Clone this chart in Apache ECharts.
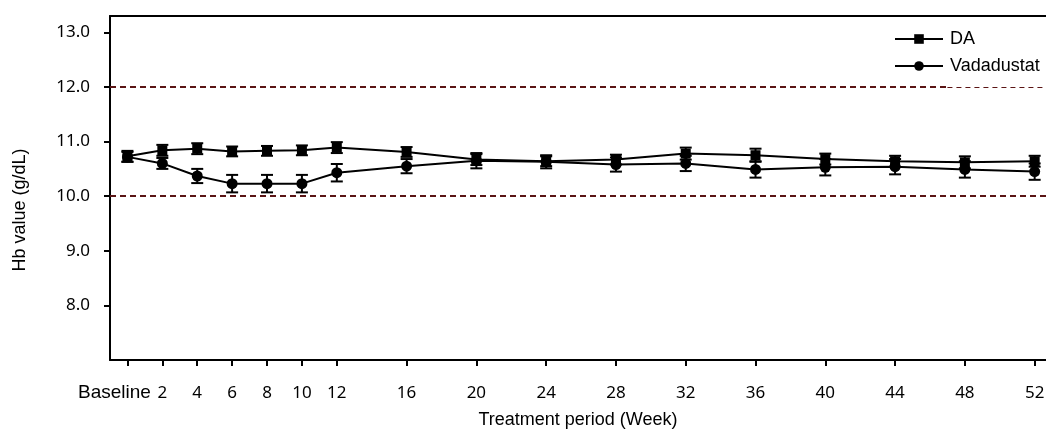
<!DOCTYPE html>
<html>
<head>
<meta charset="utf-8">
<script src="https://cdn.jsdelivr.net/npm/echarts@6/dist/echarts.min.js"></script>
<style>
  html, body { margin: 0; padding: 0; background: #fff; }
  #chart { width: 1046px; height: 432px; }
</style>
</head>
<body>
<div id="chart"></div>
<script>
// Weeks of treatment (0 = baseline)
const weeks = [0, 2, 4, 6, 8, 10, 12, 16, 20, 24, 28, 32, 36, 40, 44, 48, 52];
const weekLabels = ['Baseline', '2', '4', '6', '8', '10', '12', '16', '20', '24', '28', '32', '36', '40', '44', '48', '52'];

// Mean Hb (g/dL) per visit
const daMean = [10.73, 10.84, 10.87, 10.82, 10.83, 10.84, 10.89, 10.81, 10.67, 10.64, 10.67, 10.78, 10.75, 10.68, 10.64, 10.62, 10.64];
const vadaMean = [10.72, 10.60, 10.37, 10.23, 10.23, 10.23, 10.43, 10.55, 10.65, 10.63, 10.58, 10.60, 10.49, 10.53, 10.54, 10.49, 10.45];

// Half-width of the error bars (g/dL)
const daErr = [0.10, 0.10, 0.10, 0.09, 0.09, 0.09, 0.10, 0.09, 0.10, 0.09, 0.09, 0.11, 0.12, 0.10, 0.10, 0.11, 0.10];
const vadaErr = [0.09, 0.10, 0.13, 0.16, 0.16, 0.16, 0.16, 0.13, 0.14, 0.12, 0.13, 0.14, 0.15, 0.15, 0.14, 0.15, 0.15];

// Target range limits
const targetLow = 10;
const targetHigh = 12;
const yTicks = [8, 9, 10, 11, 12, 13];

const pairs = (xs, ys) => xs.map((x, i) => [x, ys[i]]);
const errRows = (xs, m, e) => xs.map((x, i) => [x, m[i] - e[i], m[i] + e[i]]);
const labelOf = v => weekLabels[weeks.indexOf(v)];

function renderErr(params, api) {
  const x = api.value(0);
  const lo = api.coord([x, api.value(1)]);
  const hi = api.coord([x, api.value(2)]);
  const cap = 6;
  const style = { stroke: '#000', lineWidth: 2 };
  return {
    type: 'group',
    children: [
      { type: 'line', shape: { x1: lo[0], y1: lo[1], x2: hi[0], y2: hi[1] }, style },
      { type: 'line', shape: { x1: lo[0] - cap, y1: lo[1], x2: lo[0] + cap, y2: lo[1] }, style },
      { type: 'line', shape: { x1: hi[0] - cap, y1: hi[1], x2: hi[0] + cap, y2: hi[1] }, style }
    ]
  };
}

const tickFont = '"Noto Sans", "Open Sans", sans-serif';
const textFont = '"Liberation Sans", Arial, sans-serif';
const refColor = '#5a1414';
const xMin = -1;
const xMax = 52.65;

const chart = echarts.init(document.getElementById('chart'));
chart.setOption({
  animation: false,
  backgroundColor: '#fff',
  grid: { left: 110, right: 0, top: 16, bottom: 72, containLabel: false, outerBoundsMode: 'none' },
  legend: {
    data: ['DA', 'Vadadustat'],
    orient: 'vertical',
    left: 894,
    top: 30,
    itemWidth: 48,
    itemHeight: 12,
    itemGap: 9,
    textStyle: { fontFamily: textFont, fontSize: 18, color: '#000', padding: [0, 0, 0, 2] },
    backgroundColor: '#fff',
    padding: 0
  },
  xAxis: [{
    // main week axis: ticks at every visit, numeric labels after baseline
    type: 'value',
    min: xMin,
    max: xMax,
    name: 'Treatment period (Week)',
    nameLocation: 'middle',
    nameGap: 51,
    nameTextStyle: { fontFamily: textFont, fontSize: 18, color: '#000' },
    splitLine: { show: false },
    axisLine: { onZero: false, lineStyle: { color: '#000', width: 2 } },
    axisTick: { customValues: weeks, length: 6, lineStyle: { color: '#000', width: 2 } },
    axisLabel: {
      customValues: weeks.slice(1),
      hideOverlap: false,
      margin: 22,
      fontFamily: tickFont,
      fontSize: 17,
      lineHeight: 22,
      color: '#000',
      formatter: labelOf
    }
  }, {
    // closing line along the top of the plot
    type: 'value',
    position: 'top',
    min: xMin,
    max: xMax,
    axisLine: { show: true, onZero: false, lineStyle: { color: '#000', width: 2 } },
    axisTick: { show: false },
    axisLabel: { show: false },
    splitLine: { show: false }
  }, {
    // "Baseline" label, set slightly left of its tick
    type: 'value',
    position: 'bottom',
    min: xMin,
    max: xMax,
    axisLine: { show: false, onZero: false },
    axisTick: { show: false },
    splitLine: { show: false },
    axisLabel: {
      customValues: weeks.slice(0, 1),
      showMinLabel: true,
      margin: 22,
      fontFamily: textFont,
      fontSize: 19,
      lineHeight: 22,
      color: '#000',
      padding: [0, 26, 0, 0],
      formatter: labelOf
    }
  }],
  yAxis: {
    type: 'value',
    min: 7,
    max: 13.3,
    name: 'Hb value (g/dL)',
    nameLocation: 'middle',
    nameGap: 81,
    nameTextStyle: { fontFamily: textFont, fontSize: 18, color: '#000', padding: [0, 44, 0, 0] },
    splitLine: { show: false },
    axisLine: { show: true, onZero: false, lineStyle: { color: '#000', width: 2 } },
    axisTick: { show: true, customValues: yTicks, length: 6, lineStyle: { color: '#000', width: 2 } },
    axisLabel: {
      customValues: yTicks,
      margin: 20,
      fontFamily: tickFont,
      fontSize: 17,
      color: '#000',
      formatter: v => v.toFixed(1)
    }
  },
  series: [
    {
      name: 'DA-err',
      type: 'custom',
      renderItem: renderErr,
      data: errRows(weeks, daMean, daErr),
      z: 3,
      silent: true,
      markLine: {
        silent: true,
        symbol: 'none',
        label: { show: false },
        data: [
          [{ coord: [xMin, targetHigh], lineStyle: { width: 2, type: [6, 4] } }, { coord: [47, targetHigh] }],
          [{ coord: [47, targetHigh], lineStyle: { width: 1, type: [5, 4] } }, { coord: [xMax, targetHigh] }],
          [{ coord: [xMin, targetLow], lineStyle: { width: 2, type: [6, 4] } }, { coord: [xMax, targetLow] }]
        ],
        lineStyle: { color: refColor }
      }
    },
    {
      name: 'Vadadustat-err',
      type: 'custom',
      renderItem: renderErr,
      data: errRows(weeks, vadaMean, vadaErr),
      z: 3,
      silent: true
    },
    {
      name: 'DA',
      type: 'line',
      data: pairs(weeks, daMean),
      symbol: 'rect',
      symbolSize: 10,
      color: '#000',
      itemStyle: { color: '#000' },
      lineStyle: { color: '#000', width: 2 },
      z: 4
    },
    {
      name: 'Vadadustat',
      type: 'line',
      data: pairs(weeks, vadaMean),
      symbol: 'circle',
      symbolSize: 11,
      color: '#000',
      itemStyle: { color: '#000' },
      lineStyle: { color: '#000', width: 2 },
      z: 4
    }
  ]
});
</script>
</body>
</html>
